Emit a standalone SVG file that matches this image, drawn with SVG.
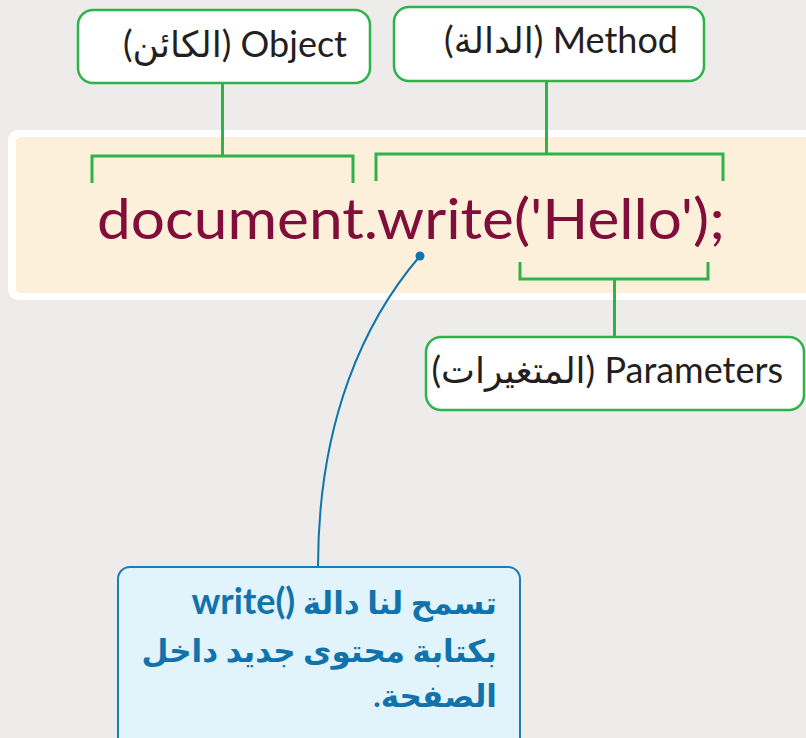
<svg xmlns="http://www.w3.org/2000/svg" width="806" height="738" viewBox="0 0 806 738">
  <style>
    .lbl-box { fill: #FFFFFF; stroke: #2DB34A; stroke-width: 2.5; }
    .lbl { font-family: Lato, "Open Sans", "DejaVu Sans", sans-serif; font-size: 36px; fill: #231F20; }
    .green { fill: none; stroke: #2DB34A; stroke-width: 3; }
    .code { font-family: Lato, "Open Sans", sans-serif; font-size: 57px; fill: #800D3A; }
    .note { font-family: Lato, "DejaVu Sans", sans-serif; font-size: 31px; font-weight: bold; fill: #1273AC; }
    .latin { font-size: 36px; }
  </style>
  <rect x="0" y="0" width="806" height="738" fill="#EDECEA"/>

  <g id="code-band">
    <rect x="8" y="130" width="820" height="170" rx="10" fill="#FFFFFF"/>
    <rect x="16" y="137" width="810" height="156" rx="5" fill="#FCF0DA"/>
    <text class="code" x="97" y="239" textLength="628" lengthAdjust="spacingAndGlyphs">document.write('Hello');</text>
  </g>

  <g id="connectors">
    <path class="green" d="M222.5,83 V156 M92,183 V156 H353 V183"/>
    <path class="green" d="M546.5,81 V154 M376,181 V154 H723 V181"/>
    <path class="green" d="M520,262 V279 H708 V262 M614.5,279 V338"/>
    <path d="M420,256 C365,320 318,420 318,567" fill="none" stroke="#0E75AE" stroke-width="2"/>
    <circle cx="420" cy="256" r="4.5" fill="#0E75AE"/>
  </g>

  <g id="object">
    <rect class="lbl-box" x="78" y="10" width="292" height="73" rx="15"/>
    <text class="lbl" x="347" y="57" direction="rtl" unicode-bidi="embed" text-anchor="start">Object (الكائن)</text>
  </g>

  <g id="method">
    <rect class="lbl-box" x="394" y="7" width="310" height="74" rx="15"/>
    <text class="lbl" x="678" y="53" direction="rtl" unicode-bidi="embed" text-anchor="start">Method (الدالة)</text>
  </g>

  <g id="parameters">
    <rect class="lbl-box" x="426" y="337" width="378" height="73" rx="15"/>
    <text class="lbl" x="783" y="383" direction="rtl" unicode-bidi="embed" text-anchor="start">Parameters (المتغيرات)</text>
  </g>

  <g id="note">
    <rect x="118" y="567" width="402" height="185" rx="12" fill="#E1F3FB" stroke="#1A7DB5" stroke-width="2"/>
    <text class="note" x="497" y="614" direction="rtl" unicode-bidi="embed" text-anchor="start">تسمح لنا دالة <tspan class="latin">()write</tspan></text>
    <text class="note" x="497" y="662" direction="rtl" unicode-bidi="embed" text-anchor="start">بكتابة محتوى جديد داخل</text>
    <text class="note" x="497" y="707" direction="rtl" unicode-bidi="embed" text-anchor="start">الصفحة.</text>
  </g>
</svg>
